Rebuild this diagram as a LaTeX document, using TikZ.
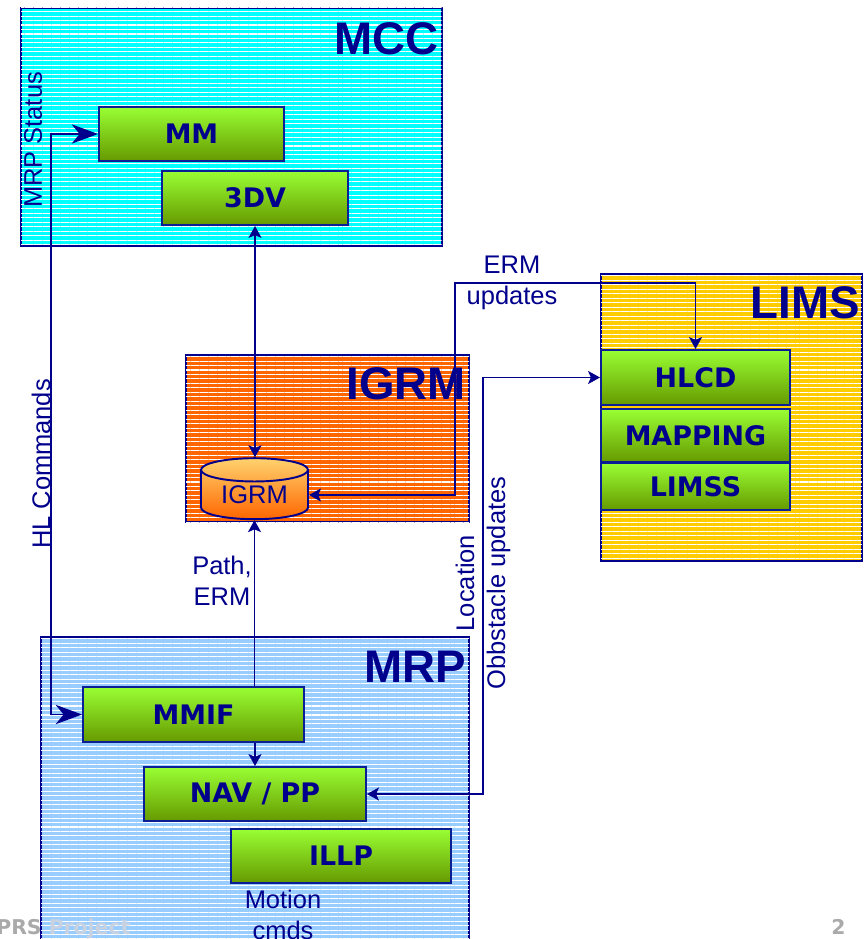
\documentclass[tikz,border=0pt]{standalone}
\usepackage{fontspec}
\setmainfont{Liberation Sans}
\newfontfamily\verdfont{DejaVu Sans}
\usepackage{tikz}
\usetikzlibrary{arrows.meta}
\usetikzlibrary{patterns.meta}
\usetikzlibrary{shapes.geometric}
\usetikzlibrary{calc}

\newlength\px
\setlength\px{0.02cm}

\definecolor{navy}{RGB}{0,0,140}
\definecolor{boxline}{RGB}{10,30,150}
\definecolor{mccfill}{RGB}{0,255,255}
\definecolor{igrmfill}{RGB}{255,102,0}
\definecolor{limsfill}{RGB}{255,204,0}
\definecolor{mrpfill}{RGB}{153,204,255}
\definecolor{greentop}{RGB}{153,255,51}
\definecolor{greenbot}{RGB}{102,153,0}
\definecolor{dbtop}{RGB}{255,210,110}
\definecolor{dbbot}{RGB}{255,102,0}
\definecolor{footgray}{RGB}{170,170,170}
\definecolor{footlight}{RGB}{200,210,225}

\begin{document}
\begin{tikzpicture}[
    x=0.02cm, y=-0.02cm,
    panel/.style={draw=navy, line width=1.1pt, fill=#1, inner sep=0pt,
        postaction={pattern={Lines[angle=0, distance=2.55pt, line width=0.6pt]},
        pattern color=white}},
    title/.style={text=navy, font=\bfseries\fontsize{26}{30}\selectfont,
        inner sep=0pt, anchor=north east},
    greenbox/.style={draw=boxline, line width=1.1pt, top color=greentop,
        bottom color=greenbot, text=navy, inner sep=0pt,
        font=\verdfont\bfseries\fontsize{15.3}{18}\selectfont},
    dbcyl/.style={cylinder, shape border rotate=90, aspect=0.35,
        draw=navy, line width=1.1pt, top color=dbtop, bottom color=dbbot,
        text=navy, inner sep=0pt, font=\fontsize{14.5}{17.6}\selectfont},
    flowtext/.style={text=navy, align=center, inner sep=0pt,
        font=\fontsize{14.5}{17.6}\selectfont},
    connector/.style={draw=navy, line width=1pt},
    small tip/.style={-{Stealth[length=6.8pt, width=7.4pt, inset=1.6pt]}},
    small tips/.style={{Stealth[length=6.8pt, width=7.4pt, inset=1.6pt]}-{Stealth[length=6.8pt, width=7.4pt, inset=1.6pt]}},
    big tips/.style={{Stealth[length=15pt, width=11pt, inset=4.5pt]}-{Stealth[length=15pt, width=11pt, inset=4.5pt]}},
    ]

    \useasboundingbox (0,0) rectangle (865,939);
    \clip (0,0) rectangle (865,939);

    % bend points of the connectors
    \coordinate (hlx) at (51,0);
    \coordinate (ermc) at (455,283);
    \coordinate (locc) at (483,583);

    % panels
    \node[panel=mccfill, minimum width=421*\px, minimum height=238*\px] (mcc) at (231.5,127) {};
    \node[panel=igrmfill, minimum width=283*\px, minimum height=167*\px] (igrm) at (327.5,438.5) {};
    \node[panel=limsfill, minimum width=261*\px, minimum height=287*\px] (lims) at (731.5,417.5) {};
    \node[panel=mrpfill, minimum width=428*\px, minimum height=340*\px] (mrp) at (255,807) {};
    % panel titles
    \node[title] (mcctitle) at ([xshift=-4*\px, yshift=-15*\px]mcc.north east) {MCC};
    \node[title] (igrmtitle) at ([xshift=-4*\px, yshift=-13*\px]igrm.north east) {IGRM};
    \node[title] (limstitle) at ([xshift=-3*\px, yshift=-13*\px]lims.north east) {LIMS};
    \node[title] (mrptitle) at ([xshift=-4*\px, yshift=-15*\px]mrp.north east) {MRP};

    % modules
    \node[greenbox, minimum width=185*\px, minimum height=54*\px] (mm) at (191.5,134) {MM};
    \node[greenbox, minimum width=186*\px, minimum height=54*\px] (v3d) at (255,198) {3DV};
    \node[greenbox, minimum width=189*\px, minimum height=55*\px] (hlcd) at (695.5,377.5) {HLCD};
    \node[greenbox, minimum width=189*\px, minimum height=53*\px] (mapping) at (695.5,435.5) {MAPPING};
    \node[greenbox, minimum width=189*\px, minimum height=47*\px] (limss) at (695.5,486.5) {LIMSS};
    \node[greenbox, minimum width=221*\px, minimum height=55*\px] (mmif) at (193.5,714.5) {MMIF};
    \node[greenbox, minimum width=222*\px, minimum height=54*\px] (nav) at (255,794) {NAV / PP};
    \node[greenbox, minimum width=220*\px, minimum height=54*\px] (illp) at (341,856) {ILLP};
    % database
    \node[dbcyl, minimum width=107*\px, minimum height=61*\px] (db) at (254.5,495) {IGRM};

    % connectors
    \draw[connector, big tips] (mm.west) -- (mm.west -| hlx) -- (mmif.west -| hlx) -- (mmif.west);
    \draw[connector, small tips] (v3d.south) -- (v3d.south |- db.north);
    \draw[connector, small tip] (mmif.north -| db.south) -- (db.south);
    \draw[connector, small tip] (mmif.south -| nav.north) -- (nav.north);
    \draw[connector, small tips] (db.east) -| (ermc) -| (hlcd.north);
    \draw[connector, small tips] (nav.east) -| (locc) |- (hlcd.west);

    % connector labels
    \node[flowtext, rotate=90] (statuslbl) at (33,140) {MRP Status};
    \node[flowtext, rotate=90] (hllbl) at (41,464) {HL Commands};
    \node[flowtext] (pathlbl) at (222,581) {Path,\\ERM};
    \node[flowtext] (ermlbl) at (ermc -| 512,0) {ERM\\updates};
    \node[flowtext, rotate=90] (loclbl) at (locc) {Location\\Obbstacle updates};
    \node[flowtext] (motionlbl) at (283,915) {Motion\\cmds};

    % footer
    \node[anchor=base west, inner sep=0pt, text=footgray,
        font=\verdfont\bfseries\fontsize{11.6}{14}\selectfont] (footer) at (-4,934)
        {PRS \textcolor{footlight}{Project}};
    \node[anchor=base east, inner sep=0pt, text=footgray,
        font=\verdfont\bfseries\fontsize{11.6}{14}\selectfont] (pagenum) at (846,934) {2};
\end{tikzpicture}
\end{document}
